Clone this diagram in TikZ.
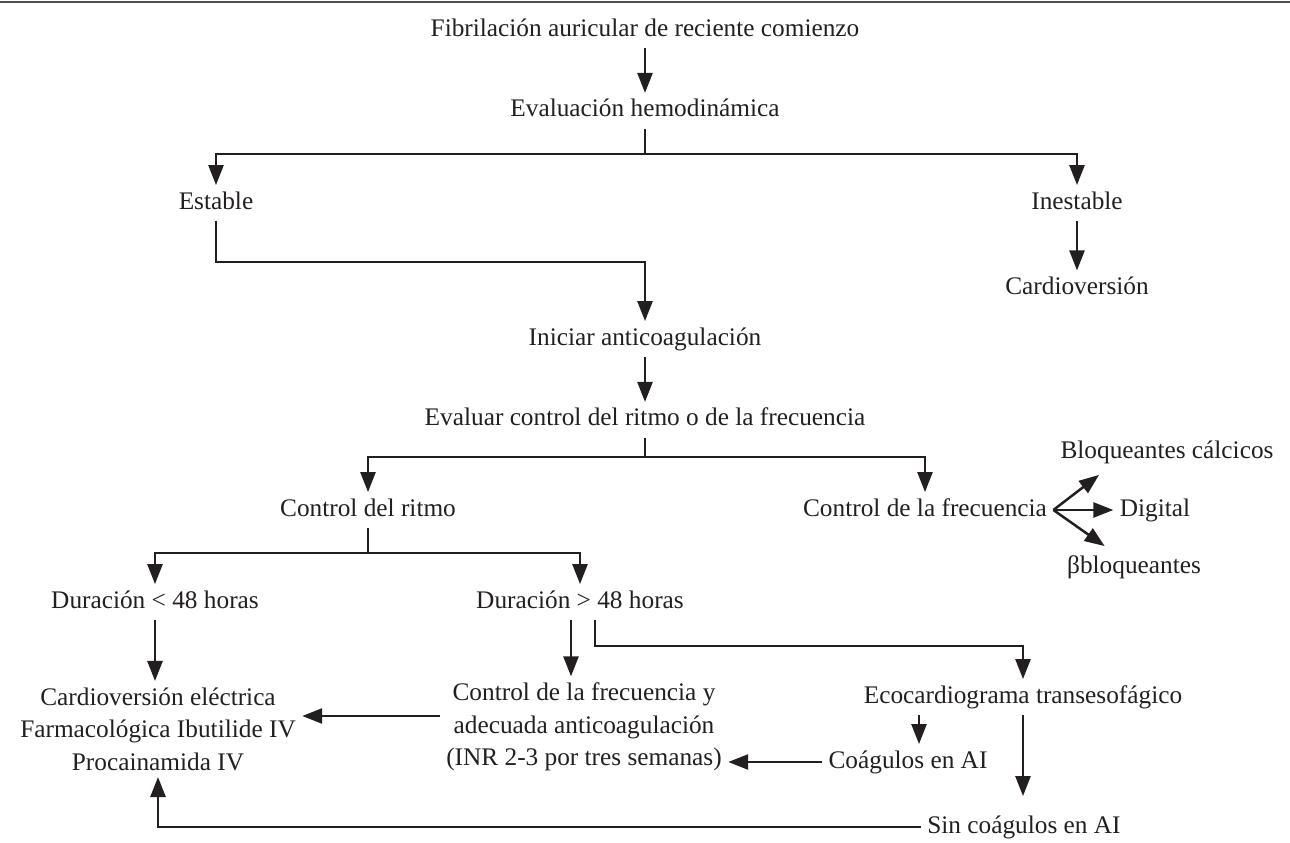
\documentclass[tikz,border=0pt]{standalone}
\usepackage{fontspec}
\setmainfont{Liberation Serif}
\usepackage{xcolor}
\definecolor{cInk}{HTML}{231F20}
\definecolor{cRule}{HTML}{4D4D4D}
\usepackage{tikz}
\usetikzlibrary{positioning,arrows.meta,calc}
\tikzset{
  node-text/.style={text=cInk,inner sep=3.5pt,text height=10pt,text depth=3pt,
    font=\fontsize{14.4}{18.5}\selectfont},
  node-multi/.style={text=cInk,inner sep=3.5pt,align=center,
    font=\fontsize{14.4}{18.5}\selectfont},
  link/.style={draw=cInk,line width=0.5mm},
  arrow/.style={link,-{Triangle[length=4mm,width=3mm]}},
  rule/.style={draw=cRule,line width=0.45mm},
}

\begin{document}
\begin{tikzpicture}[x=0.2mm,y=-0.2mm,node distance=9mm]
  \useasboundingbox (0,0) rectangle (1290,843);
  \draw[rule] (0,2) -- (1290,2);
  % tronco principal
  \node[node-text] at (645,30)             (fib)    {Fibrilación auricular de reciente comienzo};
  \node[node-text,below=of fib]            (eval)   {Evaluación hemodinámica};
  \node[node-text] at (216,203)            (est)    {Estable};
  \node[node-text] at (1077,203)           (inest)  {Inestable};
  \node[node-text,below=9.9mm of inest]    (cardio) {Cardioversión};
  \node[node-text] at (645,339)            (inic)   {Iniciar anticoagulación};
  \node[node-text,below=of inic]           (evalr)  {Evaluar control del ritmo o de la frecuencia};
  \node[node-text] at (368,510)            (ritmo)  {Control del ritmo};
  \node[node-text] at (925,510)            (ratef)  {Control de la frecuencia};
  % fármacos para la frecuencia
  \node[node-text] at (1167,452)           (bca)    {Bloqueantes cálcicos};
  \node[node-text] at (1155,510)           (dig)    {Digital};
  \node[node-text] at (1134,567)           (bbl)    {βbloqueantes};
  % rama del ritmo
  \node[node-text] at (155,602)            (dur1)   {Duración < 48 horas};
  \node[node-text] at (580,602)            (dur2)   {Duración > 48 horas};
  \node[node-multi] at (158,729)           (cardioE){Cardioversión eléctrica\\Farmacológica Ibutilide IV\\Procainamida IV};
  \node[node-multi] at (584,727)           (ctrlf)  {Control de la frecuencia y\\adecuada anticoagulación\\(INR 2-3 por tres semanas)};
  \node[node-text] at (1023,697)           (eco)    {Ecocardiograma transesofágico};
  \node[node-text] at (908,762)            (coag)   {Coágulos en AI};
  \node[node-text] at (1024,827)           (sin)    {Sin coágulos en AI};

  \coordinate (j-est) at (645,154);
  \coordinate (j-ctl) at (645,457);
  \coordinate (j-dur) at (368,553);

  \draw[arrow] (fib) -- (eval);
  \draw[link]  (eval) -- (j-est);
  \draw[arrow] (j-est) -| (est);
  \draw[arrow] (j-est) -| (inest);
  \draw[arrow] (inest) -- (cardio);
  \draw[arrow] (est.south) -- ++(0,41) -| (inic);
  \draw[arrow] (inic) -- (evalr);
  \draw[link]  (evalr) -- (j-ctl);
  \draw[arrow] (j-ctl) -| (ritmo);
  \draw[arrow] (j-ctl) -| (ratef);
  \draw[arrow] (ratef.east) -- ($(bca.south west)+(45,5)$);
  \draw[arrow] (ratef.east) -- (dig);
  \draw[arrow] (ratef.east) -- ($(bbl.north west)+(44,-3)$);
  \draw[link]  (ritmo) -- (j-dur);
  \draw[arrow] (j-dur) -| (dur1);
  \draw[arrow] (j-dur) -| (dur2);
  \draw[arrow] (dur1) -- (dur1 |- cardioE.north);
  \draw[arrow] ([xshift=-1.8mm]dur2.south) -- ([xshift=-1.8mm]dur2.south |- ctrlf.north);
  \draw[arrow] ([xshift=3mm]dur2.south) -- ++(0,26) -| (eco);
  \draw[arrow] ([xshift=2.2mm]coag.north |- eco.south) -- ([xshift=2.2mm]coag.north);
  \draw[arrow,shorten >=2.6mm] (eco.south) -- (eco.south |- sin.north);
  \draw[arrow] (coag.west) -- (coag.west -| ctrlf.east);
  \draw[arrow] ([yshift=2.2mm]ctrlf.west) -- ([yshift=2.2mm]ctrlf.west -| cardioE.east);
  \draw[arrow] (sin.west) -| (cardioE);
\end{tikzpicture}
\end{document}
